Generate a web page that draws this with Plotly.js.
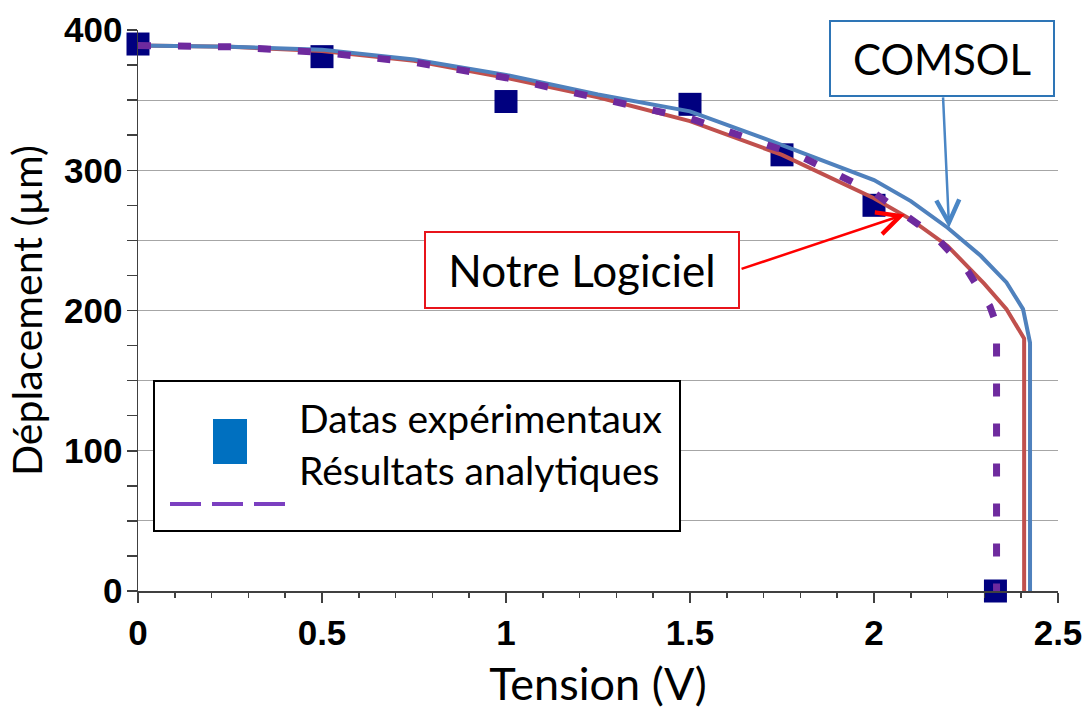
<!DOCTYPE html>
<html>
<head>
<meta charset="utf-8">
<script src="https://cdn.plot.ly/plotly-3.0.1.min.js"></script>
<style>html,body{margin:0;padding:0;background:#fff;}#chart{width:1085px;height:711px;}</style>
</head>
<body>
<div id="chart"></div>
<script>
// ---- data ----
const xExp = [0, 0.5, 1, 1.5, 1.75, 2, 2.33];
const yExp = [390, 381, 349, 347, 311, 275, 0];

const xLogiciel = [0, 0.25, 0.5, 0.75, 1.0, 1.25, 1.5, 1.75, 2.0, 2.1, 2.2, 2.3, 2.36, 2.408, 2.408];
const yLogiciel = [389, 388, 385, 378, 366, 352, 335, 311, 280, 265, 246, 219, 201, 180, 0];

const xComsol = [0, 0.25, 0.5, 0.75, 1.0, 1.25, 1.5, 1.75, 2.0, 2.1, 2.2, 2.29, 2.36, 2.405, 2.424, 2.424];
const yComsol = [389, 388, 386, 379, 368, 354, 342, 318, 293, 278, 259, 239, 220, 201, 177, 0];

const xAnalytique = [0, 0.25, 0.5, 0.75, 1.0, 1.25, 1.5, 1.6, 1.8, 1.9, 2.0, 2.17, 2.255, 2.315, 2.333, 2.333];
const yAnalytique = [389, 388, 384, 377, 366, 351, 337, 328, 310, 297, 284, 252, 228, 203, 190, 0];

const yTickVals = [0, 50, 100, 150, 200, 250, 300, 350, 400];
const yTickText = ['0', '', '100', '', '200', '', '300', '', '400'];
const xTickVals = [0, 0.5, 1, 1.5, 2, 2.5];
const xTickText = ['0', '0.5', '1', '1.5', '2', '2.5'];

const seriesNames = ['Datas expérimentaux', 'Résultats analytiques', 'Notre Logiciel', 'COMSOL'];
const xTitle = 'Tension (V)';
const yTitle = 'Déplacement (µm)';

// ---- layout helpers (pixel -> paper) ----
const W = 1085, H = 711;
const M = {l: 138, r: 27, t: 30, b: 120};
const PW = W - M.l - M.r, PH = H - M.t - M.b;
const px = v => (v - M.l) / PW;
const py = v => (H - M.b - v) / PH;

const titleFont = 'Lato, Carlito, Calibri, sans-serif';
const tickFont = {family: '"Liberation Sans", Arial, sans-serif', size: 35, color: '#000', weight: 'bold'};

const traces = [
  {x: xExp, y: yExp, type: 'scatter', mode: 'markers', name: seriesNames[0],
   marker: {symbol: 'square', size: 23, color: '#00007F'}, cliponaxis: false},
  {x: xLogiciel, y: yLogiciel, type: 'scatter', mode: 'lines', name: seriesNames[2],
   line: {color: '#C0504D', width: 4}, cliponaxis: false},
  {x: xComsol, y: yComsol, type: 'scatter', mode: 'lines', name: seriesNames[3],
   line: {color: '#4F81BD', width: 4}, cliponaxis: false},
  {x: xAnalytique, y: yAnalytique, type: 'scatter', mode: 'lines', name: seriesNames[1],
   line: {color: '#6E2A9E', width: 7, dash: '13px,27px'}, cliponaxis: false}
];

const layout = {
  width: W, height: H,
  margin: M,
  paper_bgcolor: '#fff', plot_bgcolor: '#fff',
  showlegend: false,
  xaxis: {
    range: [0, 2.5], tickvals: xTickVals, ticktext: xTickText,
    ticks: 'outside', ticklen: 10, tickwidth: 1.5, tickcolor: '#404040',
    minor: {dtick: 0.1, ticks: 'outside', ticklen: 5, tickwidth: 1.5, tickcolor: '#404040', showgrid: false},
    showgrid: false, zeroline: false, showline: true, linecolor: '#404040', linewidth: 1.5,
    tickfont: tickFont, ticklabelstandoff: 0,
    title: {text: xTitle, font: {family: titleFont, size: 45, color: '#000'}, standoff: 18}
  },
  yaxis: {
    range: [0, 400], tickvals: yTickVals, ticktext: yTickText,
    ticks: 'outside', ticklen: 10, tickwidth: 1.5, tickcolor: '#404040',
    minor: {dtick: 25, ticks: 'outside', ticklen: 10, tickwidth: 1.5, tickcolor: '#404040', showgrid: false},
    showgrid: true, gridcolor: '#A6A6A6', gridwidth: 1.2,
    zeroline: false, showline: true, linecolor: '#404040', linewidth: 1.5,
    tickfont: tickFont, ticklabelstandoff: -3,
    title: {text: yTitle, font: {family: titleFont, size: 41, color: '#000'}, standoff: 8}
  },
  shapes: [
    // legend box
    {type: 'rect', xref: 'paper', yref: 'paper', x0: px(154), x1: px(680), y0: py(381), y1: py(531),
     line: {color: '#000', width: 2}, fillcolor: '#fff', layer: 'above'},
    {type: 'rect', xref: 'paper', yref: 'paper', x0: px(213), x1: px(247), y0: py(419), y1: py(464),
     line: {width: 0}, fillcolor: '#0070C0', layer: 'above'},
    {type: 'line', xref: 'paper', yref: 'paper', x0: px(170), x1: px(287), y0: py(504), y1: py(504),
     line: {color: '#7B3FC0', width: 4, dash: '31px,11px'}, layer: 'above'}
  ],
  annotations: [
    {xref: 'paper', yref: 'paper', x: px(297), y: py(418), xanchor: 'left', yanchor: 'middle',
     text: seriesNames[0], showarrow: false, font: {family: titleFont, size: 39, color: '#000'}},
    {xref: 'paper', yref: 'paper', x: px(297), y: py(470), xanchor: 'left', yanchor: 'middle',
     text: seriesNames[1], showarrow: false, font: {family: titleFont, size: 39, color: '#000'}},
    // COMSOL box
    {xref: 'paper', yref: 'paper', x: px(942), y: py(58.5), xanchor: 'center', yanchor: 'middle',
     text: seriesNames[3], showarrow: false, width: 222, height: 73, borderpad: 0,
     bordercolor: '#2E75B6', borderwidth: 2, bgcolor: '#fff',
     font: {family: titleFont, size: 42, color: '#000'}},
    // Notre Logiciel box
    {xref: 'paper', yref: 'paper', x: px(582), y: py(270), xanchor: 'center', yanchor: 'middle',
     text: seriesNames[2], showarrow: false, width: 312, height: 74, borderpad: 0,
     bordercolor: '#E8141B', borderwidth: 2, bgcolor: '#fff',
     font: {family: titleFont, size: 44, color: '#000'}},
    // arrows
    {xref: 'x', yref: 'y', axref: 'x', ayref: 'y', x: 2.204, y: 259, ax: 2.1875, ay: 353,
     text: '', showarrow: true, arrowhead: 5, arrowsize: 1.8, arrowwidth: 2.5, arrowcolor: '#4A86C5', standoff: 0},
    {xref: 'x', yref: 'y', axref: 'x', ayref: 'y', x: 2.084, y: 268.5, ax: 1.636, ay: 229.3,
     text: '', showarrow: true, arrowhead: 5, arrowsize: 1.8, arrowwidth: 2.5, arrowcolor: '#FF0000', standoff: 0}
  ]
};

Plotly.newPlot('chart', traces, layout, {staticPlot: true, displayModeBar: false});
</script>
</body>
</html>
